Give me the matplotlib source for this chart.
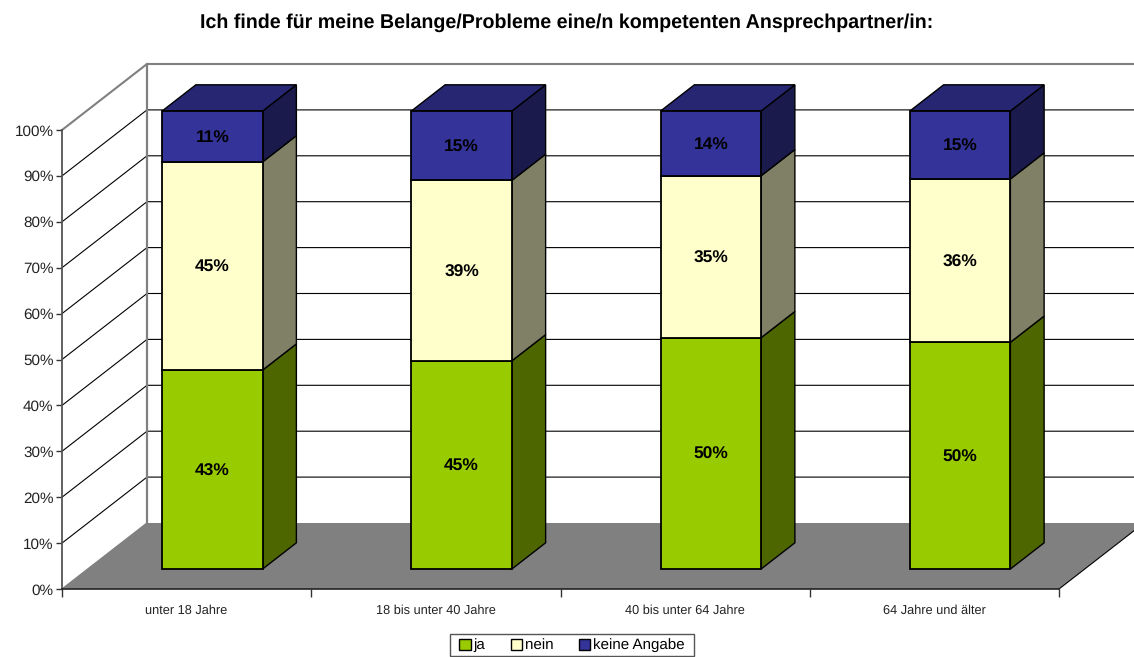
import matplotlib
matplotlib.use("Agg")
import matplotlib.pyplot as plt
from matplotlib.patches import Polygon, Patch, Rectangle
import numpy as np

plt.rcParams['font.family'] = ['Liberation Sans', 'DejaVu Sans']
plt.rcParams['text.hinting'] = 'no_hinting'

title = 'Ich finde für meine Belange/Probleme eine/n kompetenten Ansprechpartner/in:'
categories = ['unter 18 Jahre', '18 bis unter 40 Jahre', '40 bis unter 64 Jahre', '64 Jahre und älter']
series_names = ['ja', 'nein', 'keine Angabe']
ja = [43, 45, 50, 50]
nein = [45, 39, 35, 36]
keine_angabe = [11, 15, 14, 15]
percent_ticks = [0, 10, 20, 30, 40, 50, 60, 70, 80, 90, 100]

front_colors = ['#99CC00', '#FFFFCC', '#333399']
side_colors = ['#4D6600', '#808066', '#1A1A4D']
top_color = '#262673'

W, H = 1134, 657
fig = plt.figure(figsize=(W / 100, H / 100), dpi=100)
# axes = front plane of the fake 3d box
left, right, bottom_px, top_px = 62, 1059, 589, 130
ax = fig.add_axes([left / W, 1 - bottom_px / H, (right - left) / W, (bottom_px - top_px) / H])
ax.set_xlim(0, 4)
ax.set_ylim(0, 100)
ax.patch.set_visible(False)

# depth of the box in data units
unit_x = 4 / (right - left)
unit_y = 100 / (bottom_px - top_px)
depth_x = 85 * unit_x
depth_y = 66 * unit_y

def project(x, y, d):
	return (x + d * depth_x, y + d * depth_y)

# floor
floor = [project(0, 0, 0), project(4, 0, 0), project(4, 0, 1), project(0, 0, 1)]
ax.add_patch(Polygon(floor, closed=True, facecolor='#808080', edgecolor='none', zorder=1, clip_on=False))

# grid on side and back wall
for p in percent_ticks[1:]:
	color, lw = ('#808080', 1.5) if p == 100 else ('black', 0.8)
	pts = [project(0, p, 0), project(0, p, 1), project(4, p, 1)]
	ax.plot([q[0] for q in pts], [q[1] for q in pts], color=color, lw=lw, zorder=1, clip_on=False)
back_x, back_y0 = project(0, 0, 1)
ax.plot([back_x, back_x], [back_y0, back_y0 + 100], color='#808080', lw=1.6, zorder=1, clip_on=False)
floor_x = [project(0, 0, 0)[0], project(0, 0, 1)[0]]
floor_y = [project(0, 0, 0)[1], project(0, 0, 1)[1]]
ax.plot(floor_x, floor_y, color='#808080', lw=1, zorder=1, clip_on=False)
ax.plot([4, project(4, 0, 1)[0]], [0, project(4, 0, 1)[1]], color='black', lw=0.8, zorder=1, clip_on=False)

# bars
bar_front = 0.303
bar_back = 0.70
bar_width = 100.5 * unit_x
bar_scale = 458 / 459  # bars come out a pixel short of the axis height
centers = np.arange(len(categories)) + 0.5
values = np.array([ja, nein, keine_angabe], dtype=float)
totals = values.sum(axis=0)
shares = values / totals * 100 * bar_scale

for c, center in enumerate(centers):
	x0 = center - bar_width / 2
	x1 = center + bar_width / 2
	base = 0
	for s in range(len(series_names)):
		h = shares[s][c]
		fx, fy = project(center, base, bar_front)
		ax.bar(fx, h, width=bar_width, bottom=fy, color=front_colors[s], edgecolor='black', linewidth=1.3, zorder=3, clip_on=False)
		side = [project(x1, base, bar_front), project(x1, base, bar_back),
			project(x1, base + h, bar_back), project(x1, base + h, bar_front)]
		ax.add_patch(Polygon(side, closed=True, facecolor=side_colors[s], edgecolor='black', linewidth=1.0, zorder=2, clip_on=False))
		ax.text(fx, fy + h / 2 - 1.5 * unit_y, f'{int(values[s][c])}%', ha='center', va='center', fontsize=12.5, fontweight='bold', color='black', zorder=5)
		base += h
	lid = [project(x0, base, bar_front), project(x1, base, bar_front), project(x1, base, bar_back), project(x0, base, bar_back)]
	ax.add_patch(Polygon(lid, closed=True, facecolor=top_color, edgecolor='black', linewidth=1.0, zorder=2, clip_on=False))

# axes
for name in ['top', 'right']:
	ax.spines[name].set_visible(False)
ax.spines['left'].set_color('#555555')
ax.spines['left'].set_linewidth(1.3)
ax.spines['bottom'].set_color('#222222')
ax.spines['bottom'].set_linewidth(1.2)
ax.set_yticks(percent_ticks)
ax.set_yticklabels([f'{p}%' for p in percent_ticks], fontsize=11, color='#222222')
ax.tick_params(axis='y', length=4, width=1, color='#333333', pad=2)
ax.set_xticks(np.arange(len(categories) + 1))
ax.set_xticklabels([])
ax.set_xticks(centers, minor=True)
ax.set_xticklabels(categories, minor=True, fontsize=9.2, color='#222222')
ax.tick_params(axis='x', which='major', length=5.8, width=1, color='#333333')
ax.tick_params(axis='x', which='minor', length=0, pad=11)

fig.text(567 / W, 1 - 23 / H, title, ha='center', va='center', fontsize=14.1, fontweight='bold', color='black')

handles = [Patch(facecolor=front_colors[i], edgecolor='black', linewidth=1) for i in range(3)]
leg = fig.legend(handles, series_names, loc='center', bbox_to_anchor=(572 / W, 1 - 645.5 / H), ncols=3,
	fontsize=10.9, frameon=False, handlelength=0.75, handleheight=0.75, handletextpad=0.2, columnspacing=1.65,
	borderpad=0.35, borderaxespad=0)
fig.add_artist(Rectangle((450 / W, 1 - 656 / H), 244 / W, 22 / H, transform=fig.transFigure,
	facecolor='white', edgecolor='#555555', linewidth=1, zorder=-1))

fig.savefig('out.png', dpi=100)
